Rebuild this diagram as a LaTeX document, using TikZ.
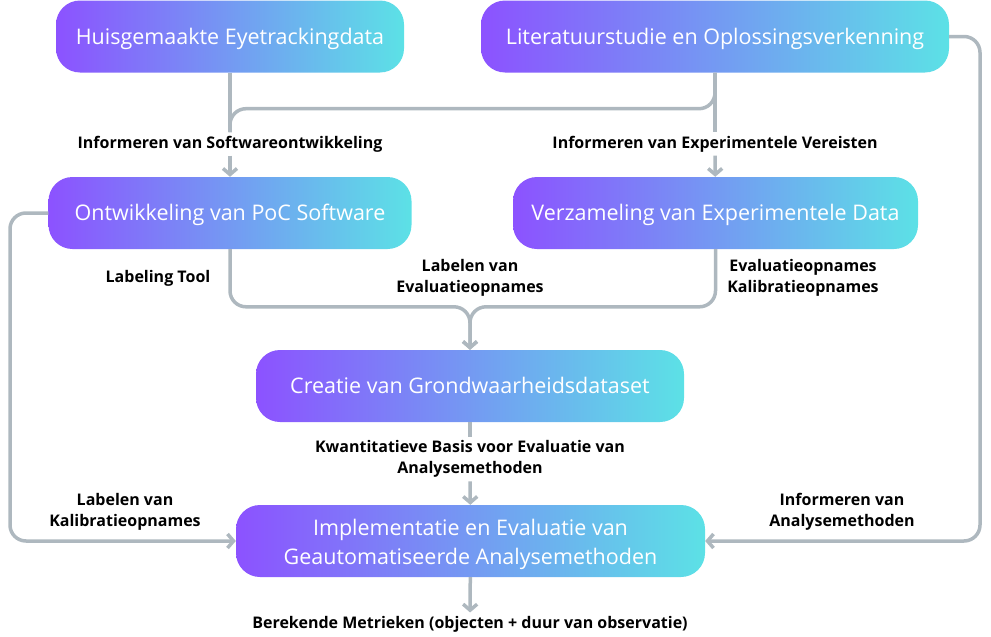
\documentclass[tikz,border=0pt]{standalone}
\usepackage{fontspec}
\setmainfont{Open Sans}
\usepackage{tikz}
\usetikzlibrary{arrows.meta, calc, positioning}
\definecolor{gradleft}{HTML}{8C52FF}
\definecolor{gradright}{HTML}{5CE1E6}
\definecolor{lijngrijs}{HTML}{AEB8BF}

\begin{document}
\begin{tikzpicture}[x=1pt,y=1pt,
box/.style={rounded corners=24pt, left color=gradleft, right color=gradright, text=white, minimum height=72pt, align=center, text height=15.4pt, text depth=0pt, font=\fontsize{21.5}{29}\selectfont},
lbl/.style={align=center, font=\fontsize{16}{21.5}\selectfont\bfseries},
lijn/.style={draw=lijngrijs, line width=3.5pt, rounded corners=16pt},
conn/.style={lijn, -{Straight Barb[length=6pt,width=14pt]}}]
\useasboundingbox (0,0) rectangle (991,-637);
% blokken
\node[box, minimum width=348pt] (eyedata) at (230,-36.5) {Huisgemaakte Eyetrackingdata};
\node[box, minimum width=468pt] (litstudie) at (715,-36.5) {Literatuurstudie en Oplossingsverkenning};
\node[box, minimum width=363pt] (poc) at (230,-213) {Ontwikkeling van PoC Software};
\node[box, minimum width=405pt] (expdata) at (715.5,-213) {Verzameling van Experimentele Data};
\node[box, minimum width=428pt] (gtdata) at (470,-386) {Creatie van Grondwaarheidsdataset};
\node[box, minimum width=469pt, text height=47.4pt] (analyse) at (470.5,-541) {Implementatie en Evaluatie van\\Geautomatiseerde Analysemethoden};
% labels
\node[lbl] (infosoft) at (230,-144) {Informeren van Softwareontwikkeling};
\node[lbl] (infoexp) at (715,-144) {Informeren van Experimentele Vereisten};
\node[lbl] (labtool) at (158,-278) {Labeling Tool};
\node[lbl] (labeval) at (470,-278) {Labelen van\\Evaluatieopnames};
\node[lbl] (opnames) at (803,-278) {Evaluatieopnames\\Kalibratieopnames};
\node[lbl] (kwant) at (470,-459) {Kwantitatieve Basis voor Evaluatie van\\Analysemethoden};
\node[lbl] (labkal) at (125,-512) {Labelen van\\Kalibratieopnames};
\node[lbl] (infoanal) at (842,-512) {Informeren van\\Analysemethoden};
\node[lbl] (metriek) at (470,-624) {Berekende Metrieken (objecten + duur van observatie)};
\coordinate (linksom) at (10,-541);
\coordinate (rechtsom) at (980,-541);
% verbindingen
\draw[lijn] (eyedata) -- (infosoft);
\draw[lijn] (litstudie) -- (infoexp);
\draw[lijn] (litstudie.south) |- ($(eyedata.south)+(0,-36)$) -- (infosoft.north);
\draw[conn] (infosoft) -- (poc);
\draw[conn] (infoexp) -- (expdata);
\draw[conn] (poc.south) |- ($(gtdata.north)+(0,43)$) -- (gtdata.north);
\draw[conn] (expdata.south) |- ($(gtdata.north)+(0,43)$) -- (gtdata.north);
\draw[lijn] (gtdata) -- (kwant);
\draw[conn] (kwant) -- (analyse);
\draw[conn] (analyse) -- (metriek);
\draw[conn] (poc.west) -| (linksom) -- (analyse.west);
\draw[conn] (litstudie.east) -| (rechtsom) -- (analyse.east);
\end{tikzpicture}
\end{document}
